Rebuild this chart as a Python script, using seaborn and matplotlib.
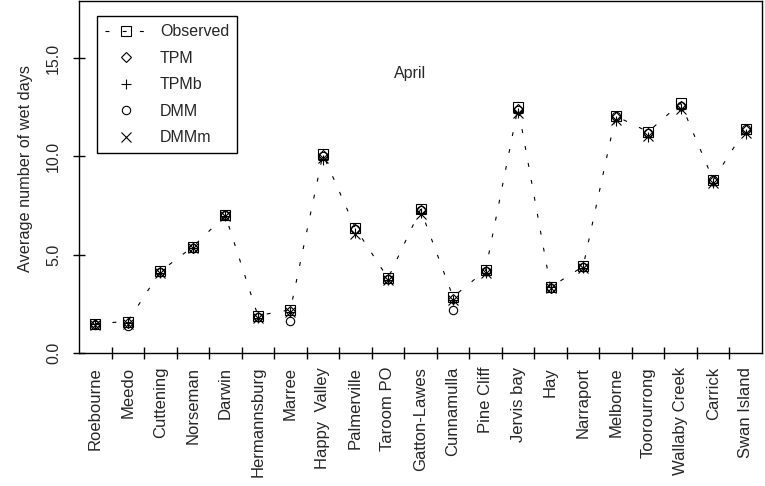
import matplotlib
matplotlib.use("Agg")
import matplotlib.pyplot as plt
import seaborn as sns
import pandas as pd
import numpy as np
from matplotlib.ticker import FixedLocator

stations = ["Roebourne", "Meedo", "Cuttening", "Norseman", "Darwin", "Hermannsburg",
            "Marree", "Happy  Valley", "Palmerville", "Taroom PO", "Gatton-Lawes",
            "Cunnamulla", "Pine Cliff", "Jervis bay", "Hay", "Narraport", "Melborne",
            "Toorourrong", "Wallaby Creek", "Carrick", "Swan Island"]
observed = [1.5, 1.6, 4.15, 5.4, 7.0, 1.9, 2.2, 10.1, 6.35, 3.8, 7.3, 2.85, 4.2,
            12.5, 3.35, 4.4, 12.05, 11.25, 12.7, 8.8, 11.4]
tpm = [1.45, 1.55, 4.1, 5.35, 7.0, 1.85, 2.15, 10.05, 6.3, 3.75, 7.25, 2.75, 4.15,
       12.4, 3.3, 4.35, 12.0, 11.2, 12.55, 8.75, 11.35]
tpmb = [1.45, 1.55, 4.05, 5.35, 6.95, 1.8, 2.1, 9.8, 6.1, 3.7, 7.1, 2.7, 4.05,
        12.2, 3.35, 4.3, 11.8, 11.0, 12.4, 8.65, 11.15]
dmm = [1.4, 1.35, 4.1, 5.35, 7.0, 1.85, 1.65, 10.0, 6.3, 3.75, 7.25, 2.2, 4.15,
       12.35, 3.3, 4.35, 12.05, 11.2, 12.55, 8.8, 11.4]
dmmm = [1.4, 1.5, 4.05, 5.35, 6.95, 1.8, 2.1, 9.9, 6.05, 3.7, 7.05, 2.7, 4.05,
        12.2, 3.3, 4.3, 11.85, 11.05, 12.4, 8.65, 11.2]
y_ticks = [0.0, 5.0, 10.0, 15.0]

sns.set_style("white")
plt.rcParams['font.family'] = ['Liberation Sans', 'DejaVu Sans']

fig = plt.figure(figsize=(7.65, 4.86), dpi=100)
ax = fig.add_axes([79/765, 133/486, 683/765, 352/486])

x = np.arange(len(stations))
df = pd.DataFrame({"x": x, "Observed": observed, "TPM": tpm, "TPMb": tpmb,
                   "DMM": dmm, "DMMm": dmmm})

sns.lineplot(data=df, x="x", y="Observed", ax=ax, color="black", lw=0.8,
             linestyle=(0, (3.5, 12)), marker="s", markersize=6.5,
             markerfacecolor="none", markeredgecolor="black", markeredgewidth=0.8,
             label="Observed", sort=False)
styles = [("TPM", "D", 5.0), ("TPMb", "+", 7.5), ("DMM", "o", 6.0), ("DMMm", "x", 6.5)]
for name, m, ms in styles:
    sns.lineplot(data=df, x="x", y=name, ax=ax, color="black", lw=0, linestyle="none",
                 marker=m, markersize=ms, markerfacecolor="none",
                 markeredgecolor="black", markeredgewidth=0.8, label=name, sort=False)

ax.set_xlim(-0.5, len(stations) - 0.5)
ax.set_ylim(0, 17.9)
ax.set_xticks(x)
ax.set_xticklabels(stations, rotation=90, fontsize=12)
ax.xaxis.set_minor_locator(FixedLocator(np.arange(0.5, len(stations) - 0.5, 1.0)))
ax.tick_params(axis="x", which="major", bottom=True, length=0, pad=10)
ax.tick_params(axis="x", which="minor", bottom=True, direction="inout", length=8,
               width=1, color="black")
ax.set_yticks(y_ticks)
ax.set_yticklabels([f"{v:.1f}" for v in y_ticks], rotation=90, va="center", fontsize=11.5)
ax.tick_params(axis="y", left=True, direction="inout", length=8, width=1,
               color="black", pad=9)
ax.set_xlabel("")
ax.set_ylabel("Average number of wet days", fontsize=11.7, labelpad=9)
ax.yaxis.label.set_y(0.523)

for s in ax.spines.values():
    s.set_color("black")
    s.set_linewidth(1.0)

ax.text(0.485, 0.795, "April", transform=ax.transAxes, ha="center", va="center",
        fontsize=11.5)

leg = ax.legend(loc="upper left", bbox_to_anchor=(0.026, 0.957), fontsize=11.5,
                frameon=True, fancybox=False, edgecolor="black", framealpha=1,
                handlelength=2.6, labelspacing=0.72, borderpad=0.5, handletextpad=0.85,
                borderaxespad=0)
leg.get_frame().set_linewidth(1.0)

fig.savefig("out.png", dpi=100)
